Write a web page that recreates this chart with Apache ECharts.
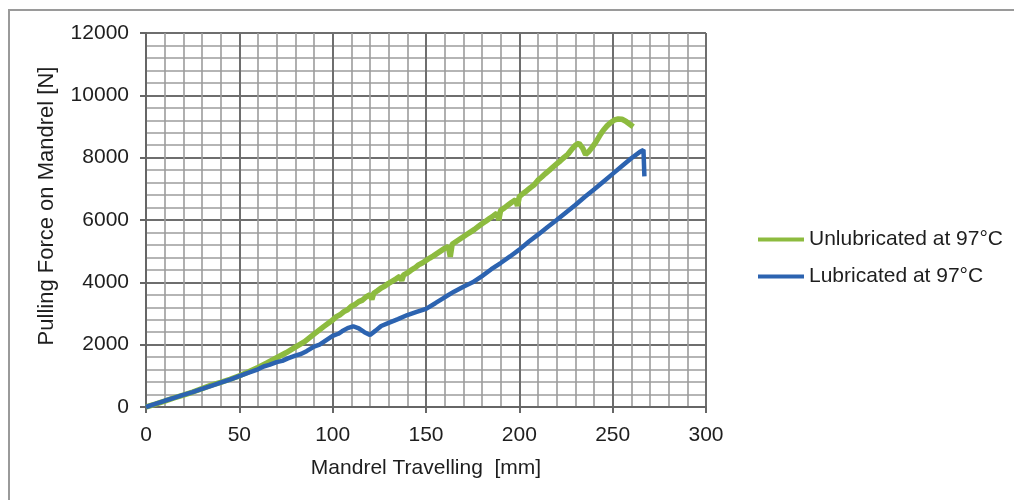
<!DOCTYPE html>
<html>
<head>
<meta charset="utf-8">
<script src="https://cdn.jsdelivr.net/npm/echarts@6/dist/echarts.min.js"></script>
<style>html,body{margin:0;padding:0;background:#fff}#c{width:1014px;height:500px}</style>
</head>
<body>
<div id="c"></div>
<script>
const xTicks = [0, 50, 100, 150, 200, 250, 300];
const yTicks = [0, 2000, 4000, 6000, 8000, 10000, 12000];
const seriesNames = ['Unlubricated at 97°C', 'Lubricated at 97°C'];

const unlubX = [0,5,10,15,20,25,30,35,40,45,50,55,60,65,70,75,80,85,90,95,100,102,104,106,108,110,112,114,116,118,120,121,122,124,126,128,130,132,134,136,137,138,140,142,144,146,148,150,152,154,156,158,160,162,163,164,166,168,170,172,174,176,178,180,182,184,186,188,189,190,192,194,196,198,199,200,202,204,206,208,210,212,214,216,218,220,222,224,226,228,230,232,234,235.5,237,239,241,243,245,247,249,251,253,255,257,259,261];
const unlubY = [0,90,190,290,380,480,590,700,790,890,1000,1130,1270,1420,1580,1740,1920,2100,2340,2570,2790,2900,2960,3060,3120,3230,3290,3380,3430,3540,3600,3450,3650,3730,3820,3880,3970,4040,4110,4190,4050,4240,4300,4390,4460,4560,4620,4700,4780,4850,4930,5010,5090,5150,4820,5220,5300,5380,5460,5540,5620,5700,5790,5880,5960,6050,6130,6220,6000,6310,6390,6480,6570,6650,6450,6750,6850,6940,7040,7130,7280,7380,7490,7590,7700,7800,7900,8010,8110,8260,8400,8460,8300,8100,8180,8330,8500,8700,8880,9020,9130,9210,9240,9230,9170,9080,8990];

const lubX = [0,5,10,15,20,25,30,35,40,45,50,55,60,63,66,70,73,76,80,83,86,90,93,96,100,103,105,108,111,114,117,120,123,126,130,135,140,145,150,155,160,165,170,175,180,185,190,195,200,205,210,215,220,225,230,235,240,245,250,255,260,265,266.5,267];
const lubY = [0,100,200,290,390,480,580,680,780,880,990,1100,1210,1300,1350,1440,1480,1560,1650,1700,1790,1940,2000,2120,2280,2350,2430,2530,2590,2520,2400,2310,2450,2600,2700,2820,2950,3050,3150,3330,3520,3700,3860,4000,4200,4420,4620,4830,5050,5300,5530,5770,6000,6240,6480,6740,6980,7230,7480,7730,7980,8200,8250,7400];

const zip = (xs, ys) => xs.map((x, i) => [x, ys[i]]);
const FONT = 'Liberation Sans';
const FS = 21;

const chart = echarts.init(document.getElementById('c'), null, {renderer: 'canvas'});
chart.setOption({
  animation: false,
  backgroundColor: '#fff',
  graphic: [{
    type: 'rect', shape: {x: 9, y: 10, width: 1100, height: 600},
    style: {fill: 'none', stroke: '#9a9a9a', lineWidth: 2}, silent: true
  }],
  grid: {left: 146, top: 33, right: 308, bottom: 93, containLabel: false},
  legend: {
    orient: 'vertical', left: 753, top: 224, itemGap: 16,
    itemWidth: 46, itemHeight: 4, icon: 'rect',
    textStyle: {fontFamily: FONT, fontSize: FS, color: '#1e1e1e'},
    data: seriesNames
  },
  xAxis: {
    type: 'value', min: xTicks[0], max: xTicks[xTicks.length - 1], interval: 50,
    name: 'Mandrel Travelling  [mm]', nameLocation: 'middle', nameGap: 51,
    nameTextStyle: {fontFamily: FONT, fontSize: FS, color: '#1e1e1e'},
    axisLine: {show: true, lineStyle: {color: '#666', width: 2}},
    axisTick: {show: true, length: 6, lineStyle: {color: '#666', width: 2}},
    axisLabel: {margin: 18, fontFamily: FONT, fontSize: FS, color: '#1e1e1e'},
    splitLine: {show: true, lineStyle: {color: '#6e6e6e', width: 2}},
    minorTick: {show: false, splitNumber: 5},
    minorSplitLine: {show: true, lineStyle: {color: '#9c9c9c', width: 1.6}}
  },
  yAxis: {
    type: 'value', min: yTicks[0], max: yTicks[yTicks.length - 1], interval: 2000,
    name: 'Pulling Force on Mandrel [N]', nameLocation: 'middle', nameGap: 88,
    nameTextStyle: {fontFamily: FONT, fontSize: 22, color: '#1e1e1e', padding: [0, 0, 0, 28]},
    axisLine: {show: true, lineStyle: {color: '#666', width: 2}},
    axisTick: {show: true, length: 6, lineStyle: {color: '#666', width: 2}},
    axisLabel: {margin: 17, fontFamily: FONT, fontSize: FS, color: '#1e1e1e', formatter: v => String(v)},
    splitLine: {show: true, lineStyle: {color: '#6e6e6e', width: 2}},
    minorTick: {show: false, splitNumber: 5},
    minorSplitLine: {show: true, lineStyle: {color: '#9c9c9c', width: 1.6}}
  },
  series: [
    {name: seriesNames[0], type: 'line', showSymbol: false, symbol: 'none',
     data: zip(unlubX, unlubY), lineStyle: {color: '#8DBB3F', width: 5.5}, itemStyle: {color: '#8DBB3F'}, z: 3},
    {name: seriesNames[1], type: 'line', showSymbol: false, symbol: 'none',
     data: zip(lubX, lubY), lineStyle: {color: '#2C63B0', width: 4.5}, itemStyle: {color: '#2C63B0'}, z: 4}
  ]
});
</script>
</body>
</html>
